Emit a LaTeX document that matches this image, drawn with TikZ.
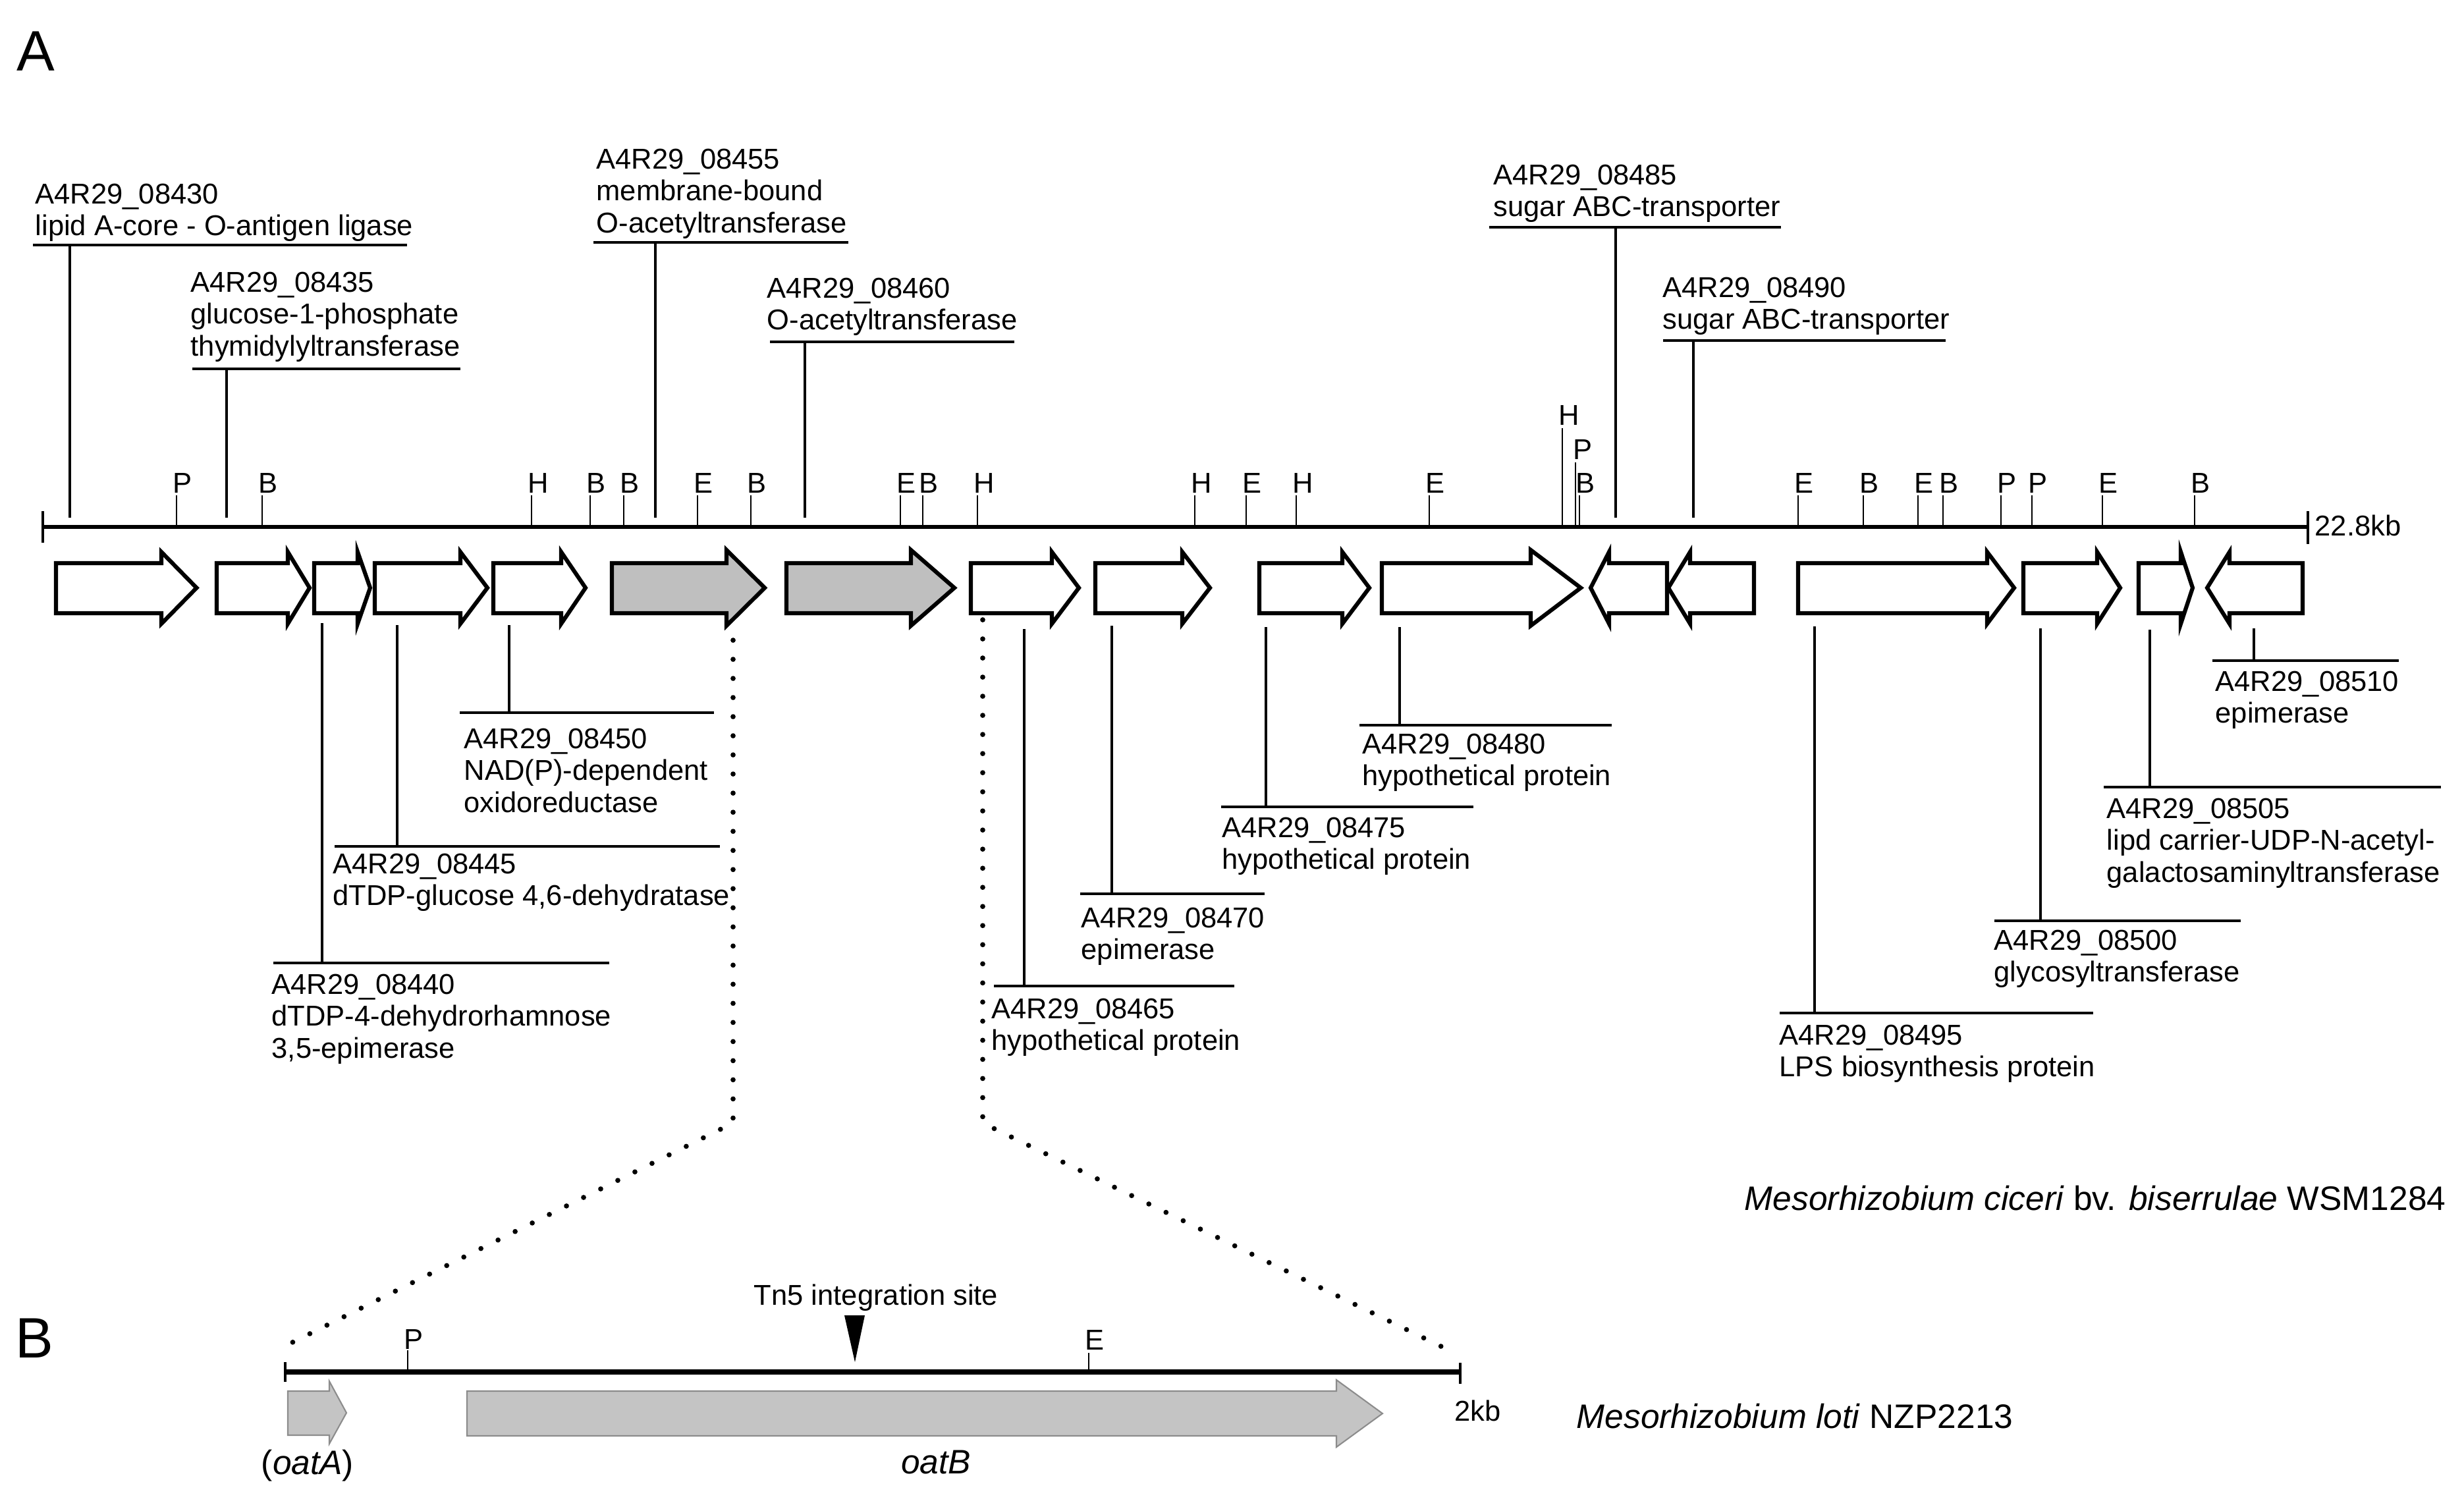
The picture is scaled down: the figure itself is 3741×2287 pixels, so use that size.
\documentclass[tikz,border=0pt]{standalone}
\usepackage{fontspec}
\setmainfont{Liberation Sans}
\begin{document}
\begin{tikzpicture}[x=0.01cm, y=-0.01cm,
  lbl/.style={anchor=base west, inner sep=0pt, font=\fontsize{12.38pt}{13.7pt}\selectfont},
  biglbl/.style={inner sep=0pt, font=\fontsize{14.65pt}{16pt}\selectfont},
  panellbl/.style={anchor=base west, inner sep=0pt, font=\fontsize{24.6pt}{28pt}\selectfont},
  thinline/.style={line width=0.95pt},
  sitetick/.style={line width=0.8pt},
  genebox/.style={draw, line width=1.75pt, fill=white, line join=miter},
  graygene/.style={genebox, fill=black!25},
  smallgene/.style={draw=black!45, line width=0.6pt, fill=black!23, line join=miter},
  dots/.style={line width=2.2pt, line cap=round, dash pattern=on 0pt off 0.29cm},
]
\useasboundingbox (0,0) rectangle (3741,2287);

% ---------- macros ----------
\newcommand\annot[4]{% name, x, first baseline, lines
  \foreach \txt [count=\i] in {#4} {\node[lbl] (#1-\i) at (#2,{#3+(\i-1)*48.5}) {\txt};}}
\newcommand\site[3]{% name, x, label
  \draw[sitetick] (#2,752) -- (#2,800);
  \node[lbl] (#1) at ({#2-6},748) {#3};}
\newcommand\gene[3]{\draw[genebox] (#1,855) -- (#2,855) -- (#2,838) -- (#3,892.5) -- (#2,947) -- (#2,931) -- (#1,931) -- cycle;}
\newcommand\biggene[4][genebox]{\draw[#1] (#2,855) -- (#3,855) -- (#3,835) -- (#4,892.5) -- (#3,950) -- (#3,931) -- (#2,931) -- cycle;}
\newcommand\callup[5]{% ul x1, ul x2, ul y, vertical x
  \draw[thinline] (#1,#3) -- (#2,#3);
  \draw[thinline] (#4,#3) -- (#4,786);}
\newcommand\calldown[5]{% hl x1, hl x2, hl y, vertical x, start y
  \draw[thinline] (#1,#3) -- (#2,#3);
  \draw[thinline] (#4,#5) -- (#4,#3);}

% ---------- panel labels ----------
\node[panellbl] (pA) at (25,107) {A};
\node[panellbl] (pB) at (23,2061) {B};

% ---------- panel A map line ----------
\draw[line width=1.9pt] (65,800) -- (3504,800);
\draw[line width=0.9pt] (65,776) -- (65,824);
\draw[line width=0.9pt] (3504,776) -- (3504,826);
\node[lbl] (kb228) at (3514,813) {22.8kb};

% restriction sites
\site{s1}{268}{P}
\site{s2}{398}{B}
\site{s3}{807}{H}
\site{s4}{896}{B}
\site{s5}{947}{B}
\site{s6}{1059}{E}
\site{s7}{1140}{B}
\site{s8}{1367}{E}
\site{s9}{1401}{B}
\site{s10}{1484}{H}
\site{s11}{1814}{H}
\site{s12}{1892}{E}
\site{s13}{1968}{H}
\site{s14}{2170}{E}
\draw[sitetick] (2372,650) -- (2372,800);
\node[lbl] (s15) at (2366,645) {H};
\draw[sitetick] (2392,702) -- (2392,800);
\node[lbl] (s16) at (2388,697) {P};
\site{s17}{2398}{B}
\site{s18}{2730}{E}
\site{s19}{2829}{B}
\site{s20}{2912}{E}
\site{s21}{2950}{B}
\site{s22}{3038}{P}
\site{s23}{3085}{P}
\site{s24}{3192}{E}
\site{s25}{3332}{B}

% genes
\gene{85}{245}{298.5}
\gene{329}{437}{470}
\gene{477}{543}{562}
\gene{569}{699}{740}
\gene{749}{852}{889}
\biggene[graygene]{929}{1103}{1161}
\biggene[graygene]{1194}{1383}{1449}
\gene{1474}{1597}{1638}
\gene{1663}{1795}{1837}
\gene{1912}{2038}{2079}
\biggene{2098}{2324}{2400}
\gene{2531}{2443}{2415}
\gene{2663}{2566}{2533}
\gene{2730}{3017}{3058}
\gene{3072}{3184}{3219}
\gene{3247}{3311}{3329}
\gene{3496}{3385}{3351}

% annotations above
\annot{a430}{53}{309}{A4R29\_08430,lipid A-core - O-antigen ligase}
\callup{50}{618}{372}{106}{}
\annot{a435}{289}{443}{A4R29\_08435,glucose-1-phosphate,thymidylyltransferase}
\callup{292}{699}{560}{344}{}
\annot{a455}{905}{256}{A4R29\_08455,membrane-bound,O-acetyltransferase}
\callup{901}{1288}{368}{995}{}
\annot{a460}{1164}{452}{A4R29\_08460,O-acetyltransferase}
\callup{1169}{1540}{519}{1222}{}
\annot{a485}{2267}{280}{A4R29\_08485,sugar ABC-transporter}
\callup{2261}{2704}{345}{2453}{}
\annot{a490}{2524}{451}{A4R29\_08490,sugar ABC-transporter}
\callup{2525}{2954}{517}{2571}{}

% annotations below
\calldown{415}{925}{1462}{489}{946}
\annot{a440}{412}{1509}{A4R29\_08440,dTDP-4-dehydrorhamnose,{3,5-epimerase}}
\calldown{508}{1093}{1285}{603}{949}
\annot{a445}{505}{1326}{A4R29\_08445,{dTDP-glucose 4,6-dehydratase}}
\calldown{698}{1084}{1082}{773}{949}
\annot{a450}{704}{1136}{A4R29\_08450,NAD(P)-dependent,oxidoreductase}
\calldown{1509}{1874}{1497}{1555}{955}
\annot{a465}{1505}{1546}{A4R29\_08465,hypothetical protein}
\calldown{1640}{1920}{1357}{1688}{950}
\annot{a470}{1641}{1408}{A4R29\_08470,epimerase}
\calldown{1854}{2237}{1225}{1922}{952}
\annot{a475}{1855}{1271}{A4R29\_08475,hypothetical protein}
\calldown{2064}{2447}{1101}{2125}{952}
\annot{a480}{2068}{1144}{A4R29\_08480,hypothetical protein}
\calldown{2702}{3178}{1538}{2755}{951}
\annot{a495}{2701}{1586}{A4R29\_08495,LPS biosynthesis protein}
\calldown{3028}{3402}{1398}{3098}{954}
\annot{a500}{3027}{1442}{A4R29\_08500,glycosyltransferase}
\calldown{3194}{3706}{1195}{3264}{956}
\annot{a505}{3198}{1242}{A4R29\_08505,lipd carrier-UDP-N-acetyl-,galactosaminyltransferase}
\calldown{3359}{3642}{1003}{3422}{954}
\annot{a510}{3363}{1049}{A4R29\_08510,epimerase}

\node[biglbl, anchor=base east] (spA) at (3714,1837)
  {\textit{Mesorhizobium ciceri} bv. \textit{biserrulae} WSM1284};

% ---------- zoom connectors ----------
\coordinate (zl0) at (1113,972);
\coordinate (zl1) at (1113,1705);
\coordinate (zl2) at (440,2040);
\coordinate (zr0) at (1492,941);
\coordinate (zr1) at (1492,1705);
\coordinate (zr2) at (2200,2050);
\draw[dots] (zl0) -- (zl1) -- (zl2);
\draw[dots] (zr0) -- (zr1) -- (zr2);

% ---------- panel B ----------
\draw[line width=2.3pt] (433,2083) -- (2217,2083);
\draw[line width=1.1pt] (433,2068) -- (433,2098);
\draw[line width=1.1pt] (2217,2069) -- (2217,2101);
\draw[sitetick] (619,2050) -- (619,2083);
\node[lbl] (bP) at (613,2048) {P};
\draw[sitetick] (1653,2054) -- (1653,2083);
\node[lbl] (bE) at (1647,2049) {E};
\node[lbl, anchor=base] (tn5) at (1330,1981) {Tn5 integration site};
\fill (1282,1997) -- (1313,1997) -- (1298,2068) -- cycle;
\node[lbl] (kb2) at (2208,2157) {2kb};

\draw[smallgene] (437,2112) -- (500,2112) -- (500,2097) -- (526,2145) -- (500,2192) -- (500,2179) -- (437,2179) -- cycle;
\draw[smallgene] (709,2112) -- (2029,2112) -- (2029,2095) -- (2099,2146) -- (2029,2197) -- (2029,2180) -- (709,2180) -- cycle;
\node[biglbl, anchor=base] (oatA) at (467,2238) {(\textit{oatA})};
\node[biglbl, anchor=base] (oatB) at (1421,2237) {\textit{oatB}};
\node[biglbl, anchor=base west] (spB) at (2393,2168) {\textit{Mesorhizobium loti} NZP2213};
\end{tikzpicture}
\end{document}
